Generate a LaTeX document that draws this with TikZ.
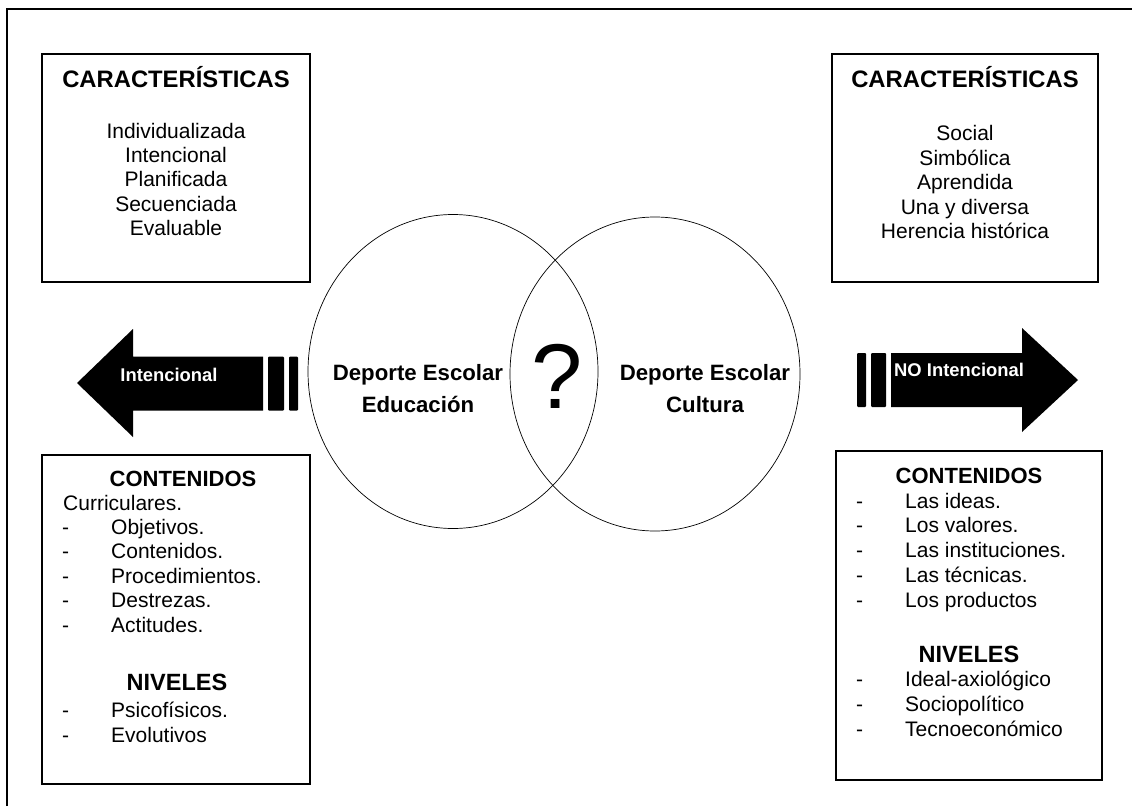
\documentclass[tikz,border=0pt]{standalone}
\usepackage{fontspec}
\setmainfont{Liberation Sans}
\usetikzlibrary{shapes.geometric}
\begin{document}
\begin{tikzpicture}[x=1pt,y=-1pt,
  frameline/.style={line width=1.5pt, draw=black},
  box/.style={draw=black, line width=1.5pt, rectangle, inner sep=0pt},
  venn/.style={draw=black, line width=0.7pt, ellipse, inner sep=0pt, minimum width=290pt, minimum height=314pt},
  ttl/.style={font=\fontsize{#1}{27}\selectfont\bfseries, anchor=base, inner sep=0pt},
  ttl/.default=22.5,
  itm/.style={font=\fontsize{21}{25}\selectfont, anchor=base, inner sep=0pt},
  itml/.style={font=\fontsize{21}{25}\selectfont, anchor=base west, inner sep=0pt},
  vtxt/.style={font=\fontsize{22.2}{26}\selectfont\bfseries, anchor=base, inner sep=0pt},
  arrtxt/.style={font=\fontsize{18.4}{22}\selectfont\bfseries, text=white, inner sep=0pt},
  bigarrow/.style={fill=black, draw=none},
  bar/.style={fill=black, draw=none, rounded corners=1pt}]
\useasboundingbox (0,0) rectangle (1132,806);

% outer frame (only top and left edges visible)
\coordinate (fbl) at (7,806);
\coordinate (ftl) at (7,9);
\coordinate (ftr) at (1132,9);
\draw[frameline] (fbl) -- (ftl) -- (ftr);

% boxes
\node[box, minimum width=268pt, minimum height=228pt] (boxTL) at (176,168) {};
\node[box, minimum width=266pt, minimum height=228pt] (boxTR) at (965,168) {};
\node[box, minimum width=268pt, minimum height=329pt] (boxBL) at (176,619.5) {};
\node[box, minimum width=266pt, minimum height=329pt] (boxBR) at (969,615.5) {};

% circles
\node[venn] (edu) at (453,371.5) {};
\node[venn] (cul) at (655,374) {};

% circle texts
\node[vtxt] (edu1) at (418,380) {Deporte Escolar};
\node[vtxt] (edu2) at (418,412) {Educación};
\node[vtxt] (cul1) at (705,380) {Deporte Escolar};
\node[vtxt] (cul2) at (705,412) {Cultura};
\node[font=\fontsize{92}{92}\selectfont, anchor=base, inner sep=0pt] (q) at (557.5,408) {?};

% left arrow
\fill[bigarrow] (77,383) -- (133,329) -- (133,356.5) -- (263,356.5) -- (263,410.5) -- (133,410.5) -- (133,437) -- cycle;
\fill[bar] (268,356.5) rectangle (284,410.5);
\fill[bar] (289,356.5) rectangle (298,410.5);
\node[arrtxt, anchor=base] (intl) at (169,381) {Intencional};

% right arrow
\fill[bigarrow] (891,353) -- (1022,353) -- (1022,328) -- (1078,380) -- (1022,432) -- (1022,407) -- (891,407) -- cycle;
\fill[bar] (857,353) rectangle (866,407);
\fill[bar] (871,353) rectangle (886,407);
\node[arrtxt, anchor=base west] (nointl) at (894,376) {NO Intencional};

% top-left box text
\node[ttl=23.8] (tlT) at (176,87) {CARACTERÍSTICAS};
\foreach \t [count=\i] in {Individualizada,Intencional,Planificada,Secuenciada,Evaluable}
  \node[itm] (tl\i) at (176,{138+24.4*(\i-1)}) {\t};

% top-right box text
\node[ttl=23.8] (trT) at (965,87) {CARACTERÍSTICAS};
\foreach \t [count=\i] in {Social,Simbólica,Aprendida,Una y diversa,Herencia histórica}
  \node[itm] (tr\i) at (965,{140.5+24.5*(\i-1)}) {\t};

% bottom-left box text
\node[ttl=22] (blT) at (183,486) {CONTENIDOS};
\node[itml] (blC) at (63,510) {Curriculares.};
\foreach \t [count=\i] in {Objetivos.,Contenidos.,Procedimientos.,Destrezas.,Actitudes.}{
  \node[itml] (bld\i) at (62,{534.5+24.4*(\i-1)}) {-};
  \node[itml] (bl\i) at (111,{534.5+24.4*(\i-1)}) {\t};
}
\node[ttl=23.5] (blN) at (177,690) {NIVELES};
\foreach \t [count=\i] in {Psicofísicos.,Evolutivos}{
  \node[itml] (blnd\i) at (62,{717+25*(\i-1)}) {-};
  \node[itml] (bln\i) at (111,{717+25*(\i-1)}) {\t};
}

% bottom-right box text
\node[ttl=22] (brT) at (969,483) {CONTENIDOS};
\foreach \t [count=\i] in {Las ideas.,Los valores.,Las instituciones.,Las técnicas.,Los productos}{
  \node[itml] (brd\i) at (856,{508+24.8*(\i-1)}) {-};
  \node[itml] (br\i) at (905,{508+24.8*(\i-1)}) {\t};
}
\node[ttl=23.5] (brN) at (969,662) {NIVELES};
\foreach \t [count=\i] in {Ideal-axiológico,Sociopolítico,Tecnoeconómico}{
  \node[itml] (brnd\i) at (856,{686+25*(\i-1)}) {-};
  \node[itml] (brn\i) at (905,{686+25*(\i-1)}) {\t};
}
\end{tikzpicture}
\end{document}
